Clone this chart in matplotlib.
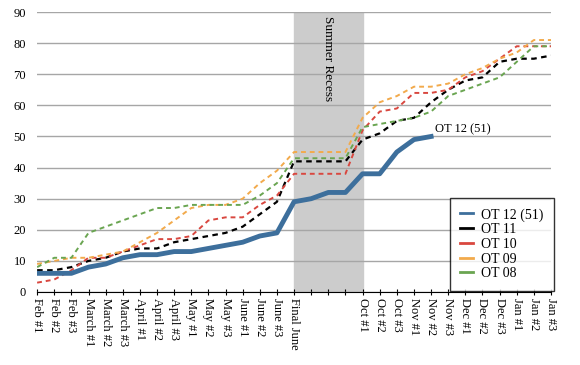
import matplotlib.pyplot as plt
import numpy as np

plt.rcParams['font.family'] = ['Liberation Serif', 'DejaVu Serif']

labels = ['Feb #1', 'Feb #2', 'Feb #3', 'March #1', 'March #2', 'March #3',
          'April #1', 'April #2', 'April #3', 'May #1', 'May #2', 'May #3',
          'June #1', 'June #2', 'June #3', 'Final June', '', '', '',
          'Oct #1', 'Oct #2', 'Oct #3', 'Nov #1', 'Nov #2', 'Nov #3',
          'Dec #1', 'Dec #2', 'Dec #3', 'Jan #1', 'Jan #2', 'Jan #3']

ot12 = [6, 6, 6, 8, 9, 11, 12, 12, 13, 13, 14, 15, 16, 18, 19, 29,
        30, 32, 32, 38, 38, 45, 49, 50]
ot11 = [7, 7, 8, 10, 11, 13, 14, 14, 16, 17, 18, 19, 21, 25, 29, 42,
        42, 42, 42, 49, 51, 55, 56, 61, 65, 68, 69, 74, 75, 75, 76]
ot10 = [3, 4, 7, 11, 11, 13, 15, 17, 17, 18, 23, 24, 24, 28, 31, 38,
        38, 38, 38, 52, 58, 59, 64, 64, 65, 69, 71, 75, 79, 79, 79]
ot09 = [9, 10, 11, 11, 12, 13, 16, 19, 23, 27, 28, 28, 30, 35, 39, 45,
        45, 45, 45, 56, 61, 63, 66, 66, 67, 70, 72, 75, 77, 81, 81]
ot08 = [8, 11, 11, 19, 21, 23, 25, 27, 27, 28, 28, 28, 28, 31, 35, 43,
        43, 43, 43, 53, 54, 55, 56, 58, 63, 65, 67, 69, 74, 79, 79]

fig = plt.figure(figsize=(5.8, 3.65), dpi=100)
ax = fig.add_axes([0.064, 0.2, 0.886, 0.767])

x = np.arange(len(labels))

# summer recess band
ax.axvspan(15, 19, color='#cccccc', zorder=0)
ax.text(17, 88.8, 'Summer Recess', rotation=270, ha='center', va='top', fontsize=9.5)

ax.plot(x[:len(ot12)], ot12, color='#3d6f9c', lw=3.5, label='OT 12 (51)', zorder=5)
ax.plot(x, ot11, color='black', lw=1.6, ls=(0, (2.5, 2)), label='OT 11')
ax.plot(x, ot10, color='#d9473f', lw=1.4, ls=(0, (2.5, 2)), label='OT 10')
ax.plot(x, ot09, color='#f2aa4c', lw=1.4, ls=(0, (2.5, 2)), label='OT 09')
ax.plot(x, ot08, color='#6aa551', lw=1.4, ls=(0, (2.5, 2)), label='OT 08')

ax.annotate('OT 12 (51)', xy=(len(ot12) - 1, ot12[-1]), xytext=(3, 1),
            textcoords='offset points', fontsize=9, va='bottom')

ax.set_xlim(0, len(labels) - 1)
ax.set_ylim(0, 90)
ax.set_yticks(range(0, 91, 10))
ax.set_xticks(x)
ax.set_xticklabels(labels, rotation=270, fontsize=9)
ax.tick_params(axis='y', length=0, labelsize=9, pad=8)
ax.tick_params(axis='x', direction='inout', length=5, pad=2)
ax.grid(axis='y', color='#a6a6a6', lw=1)
ax.set_axisbelow(True)
for s in ['left', 'right', 'top']:
    ax.spines[s].set_visible(False)
ax.spines['bottom'].set_color('black')

handles, names = ax.get_legend_handles_labels()
leg = ax.legend(handles, names, loc='lower right', bbox_to_anchor=(1.006, 0.005),
                fontsize=10, handlelength=0.9, frameon=True, fancybox=False,
                borderaxespad=0, labelspacing=0.12, borderpad=0.75,
                handletextpad=0.6)
leg.get_frame().set_edgecolor('black')
leg.get_frame().set_linewidth(1)
for h in leg.get_lines():
    h.set_linestyle('-')
    h.set_linewidth(2)

fig.savefig('out.png', dpi=100)
